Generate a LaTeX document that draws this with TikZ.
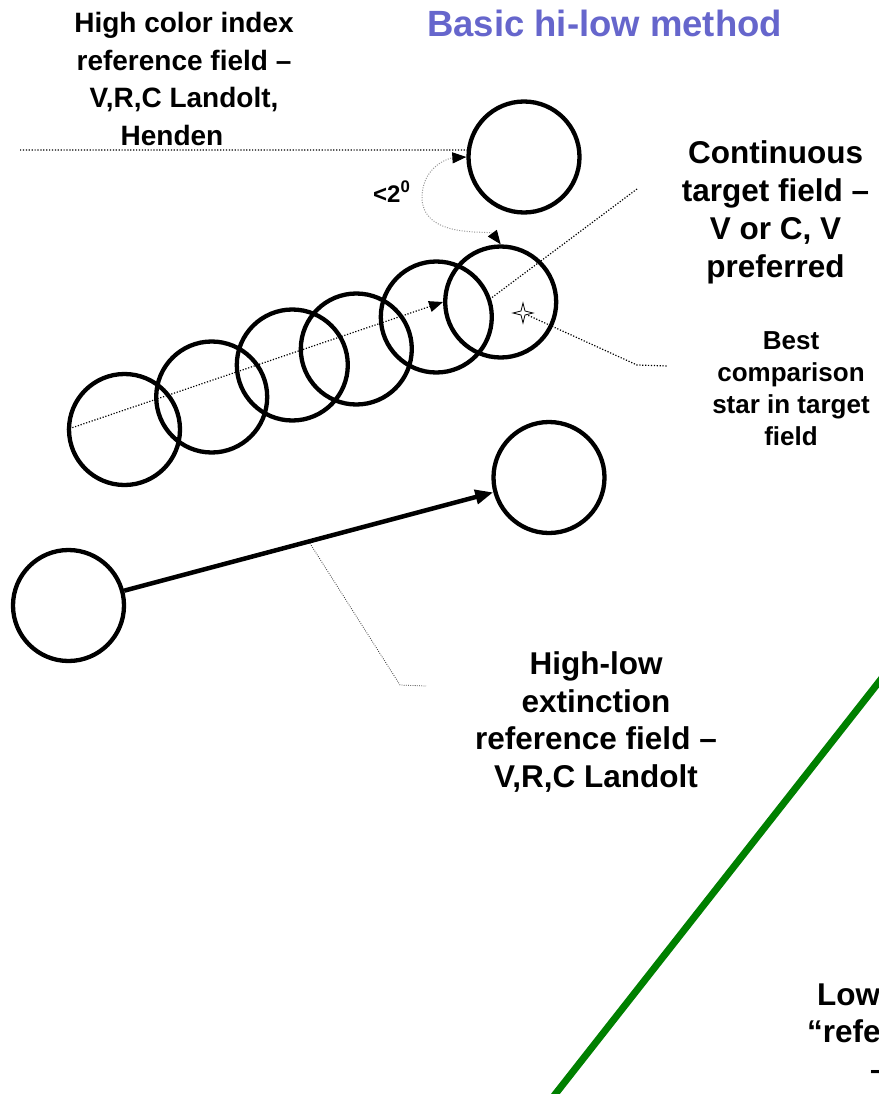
\documentclass[tikz,border=0pt]{standalone}
\usepackage{fontspec}
\setmainfont{Liberation Sans}
\usetikzlibrary{arrows.meta,calc}
\definecolor{titleblue}{RGB}{102,102,204}
\definecolor{linegreen}{RGB}{0,128,0}
\definecolor{curvegray}{RGB}{150,150,150}
\begin{document}
\begin{tikzpicture}[x=1pt,y=-1pt,
  field/.style={circle,draw=black,line width=4.3pt,minimum size=111pt,inner sep=0pt},
  lbl/.style={align=center,inner sep=0pt,text=black},
  leader/.style={line width=1.2pt,dash pattern=on 1.2pt off 1.7pt},
  thinleader/.style={line width=0.8pt,dash pattern=on 0.8pt off 1.4pt,draw=black!80},
  tipA/.style={-{Triangle[length=14pt,width=11pt]}},
]
\useasboundingbox (0,0) rectangle (878,1094);

% title
\node[anchor=base,inner sep=0pt,text=titleblue,font=\bfseries\fontsize{36.5pt}{40pt}\selectfont] (title) at (604.5,37) {Basic hi-low method};

% fields
\node[field] (tc) at (524,157) {};
\node[field] (c1) at (124.5,429.5) {};
\node[field] (c2) at (211.7,397) {};
\node[field] (c3) at (292.3,365) {};
\node[field] (c4) at (356.3,349) {};
\node[field] (c5) at (436.3,317) {};
\node[field] (c6) at (500.7,302) {};
\node[field] (lA) at (68.5,605.5) {};
\node[field] (lB) at (549,477.5) {};

% labels
\node[lbl,font=\bfseries\fontsize{28pt}{37.5pt}\selectfont] (hcl) at (184,79)
  {High color index\\reference field --\\V,R,C Landolt,\\Henden\hspace*{24pt}};
\node[lbl,font=\bfseries\fontsize{31.5pt}{38pt}\selectfont] (ctl) at (775.5,212)
  {Continuous\\target field --\\V or C, V\\preferred};
\node[lbl,font=\bfseries\fontsize{26pt}{32pt}\selectfont] (bsl) at (791,388.5)
  {Best\\comparison\\star in target\\field};
\node[lbl,font=\bfseries\fontsize{31.5pt}{37.7pt}\selectfont] (hll) at (596,722)
  {High-low\\extinction\\reference field --\\V,R,C Landolt};
\node[anchor=base west,inner sep=0pt,font=\bfseries\fontsize{24pt}{28pt}\selectfont] (deg) at (373,202) {<2\textsuperscript{0}};
\node[anchor=base west,inner sep=0pt,font=\bfseries\fontsize{31.5pt}{38pt}\selectfont] (low1) at (817,1005) {Low};
\node[anchor=base west,inner sep=0pt,font=\bfseries\fontsize{31.5pt}{38pt}\selectfont] (low2) at (807,1042) {``refe};
\node[anchor=base west,inner sep=0pt,font=\bfseries\fontsize{31.5pt}{38pt}\selectfont] (low3) at (870,1080) {--};

% leader lines
\coordinate (hcA) at (20,150);
\draw[leader] (hcA) -- (tc.173);
\coordinate (ctA) at (637,189);
\coordinate (ctB) at (490,299);
\draw[leader] (ctA) -- (ctB);
\coordinate (star) at (523,313);
\coordinate (bsA) at (637,365);
\coordinate (bsB) at (668,366);
\draw[leader] (star) -- (bsA) -- (bsB);
\coordinate (hlA) at ($(lA)!0.5!(lB)$);
\coordinate (hlB) at (400,685);
\coordinate (hlC) at (426,686);
\draw[thinleader] (hlA) -- (hlB) -- (hlC);

% star
\draw[fill=white,line width=0.8pt,shift={(star)}]
  (0,-10) -- (2,-2) -- (10,0) -- (2,2) -- (0,10) -- (-2,2) -- (-10,0) -- (-2,-2) -- cycle;

% chain arrow
\draw[leader,tipA] (c1.west) -- (c6.west);

% <2 degree curve
\draw[line width=1pt,draw=curvegray,dash pattern=on 1pt off 1.5pt,
  {Triangle[length=14pt,width=11pt,color=black]}-{Triangle[length=14pt,width=11pt,color=black]}]
  (c6.north) .. controls (490,230) and (420,240) .. (422,195)
             .. controls (424,165) and (450,158) .. (tc.west);

% extinction arrow
\draw[line width=4.5pt,-{Triangle[length=18pt,width=14pt]}] (lA) -- (lB);

% green line
\coordinate (gA) at (553,1097);
\coordinate (gB) at (882,678);
\draw[line width=7pt,draw=linegreen] (gA) -- (gB);
\end{tikzpicture}
\end{document}
